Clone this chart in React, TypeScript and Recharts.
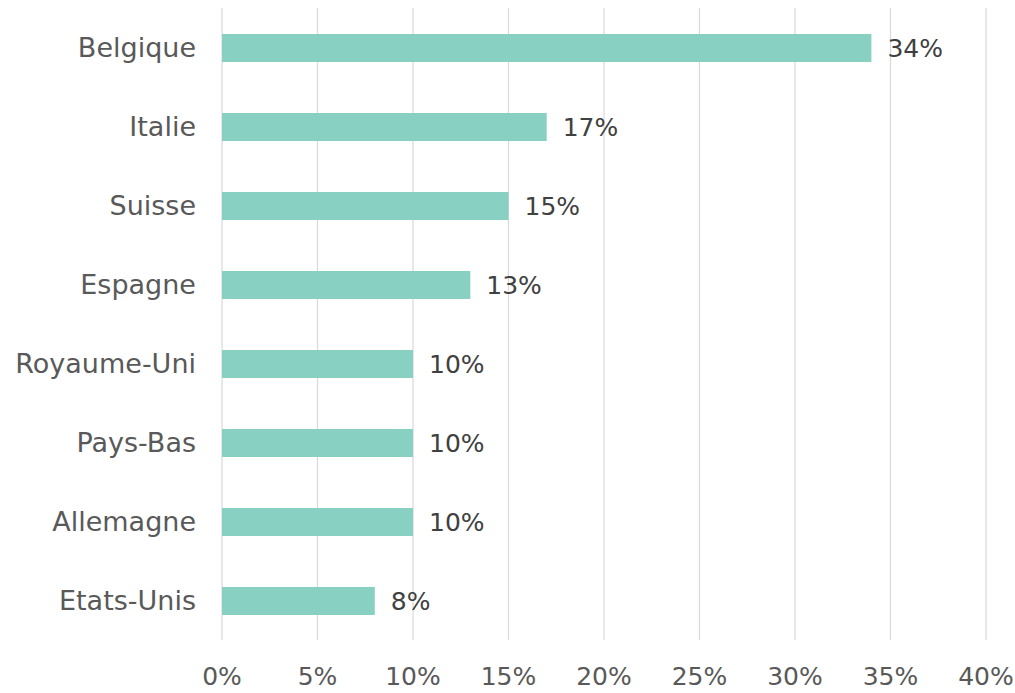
import { BarChart, Bar, XAxis, YAxis, CartesianGrid, LabelList } from 'recharts'

const countries = ['Belgique', 'Italie', 'Suisse', 'Espagne', 'Royaume-Uni', 'Pays-Bas', 'Allemagne', 'Etats-Unis']
const shares = [34, 17, 15, 13, 10, 10, 10, 8]
const xTicks = [0, 5, 10, 15, 20, 25, 30, 35, 40]

const FONT = '"DejaVu Sans", sans-serif'

export default function App() {
  const data = countries.map((name, i) => ({ name, value: shares[i] }))

  return (
    <div style={{ position: 'absolute', left: 0, top: 0, background: '#fff' }}>
      <BarChart
        width={1015}
        height={693}
        data={data}
        layout="vertical"
        margin={{ top: 8, right: 29, bottom: 0, left: 0 }}
        barSize={28}
      >
        <CartesianGrid horizontal={false} stroke="#d9d9d9" strokeWidth={1.2} />
        <XAxis
          type="number"
          domain={[0, 40]}
          ticks={xTicks}
          interval={0}
          height={53}
          axisLine={false}
          tickLine={false}
          tickFormatter={(v) => `${v}%`}
          tick={{ fill: '#595959', fontSize: 25, fontFamily: FONT }}
          tickMargin={21}
        />
        <YAxis
          type="category"
          dataKey="name"
          width={222}
          axisLine={false}
          tickLine={false}
          tick={{ fill: '#595959', fontSize: 27, fontFamily: FONT }}
          tickMargin={20}
        />
        <Bar dataKey="value" fill="#88d0c1" isAnimationActive={false}>
          <LabelList
            dataKey="value"
            position="right"
            offset={16}
            formatter={(v: any) => `${v}%`}
            style={{ fill: '#404040', fontSize: 25, fontFamily: FONT }}
          />
        </Bar>
      </BarChart>
    </div>
  )
}
